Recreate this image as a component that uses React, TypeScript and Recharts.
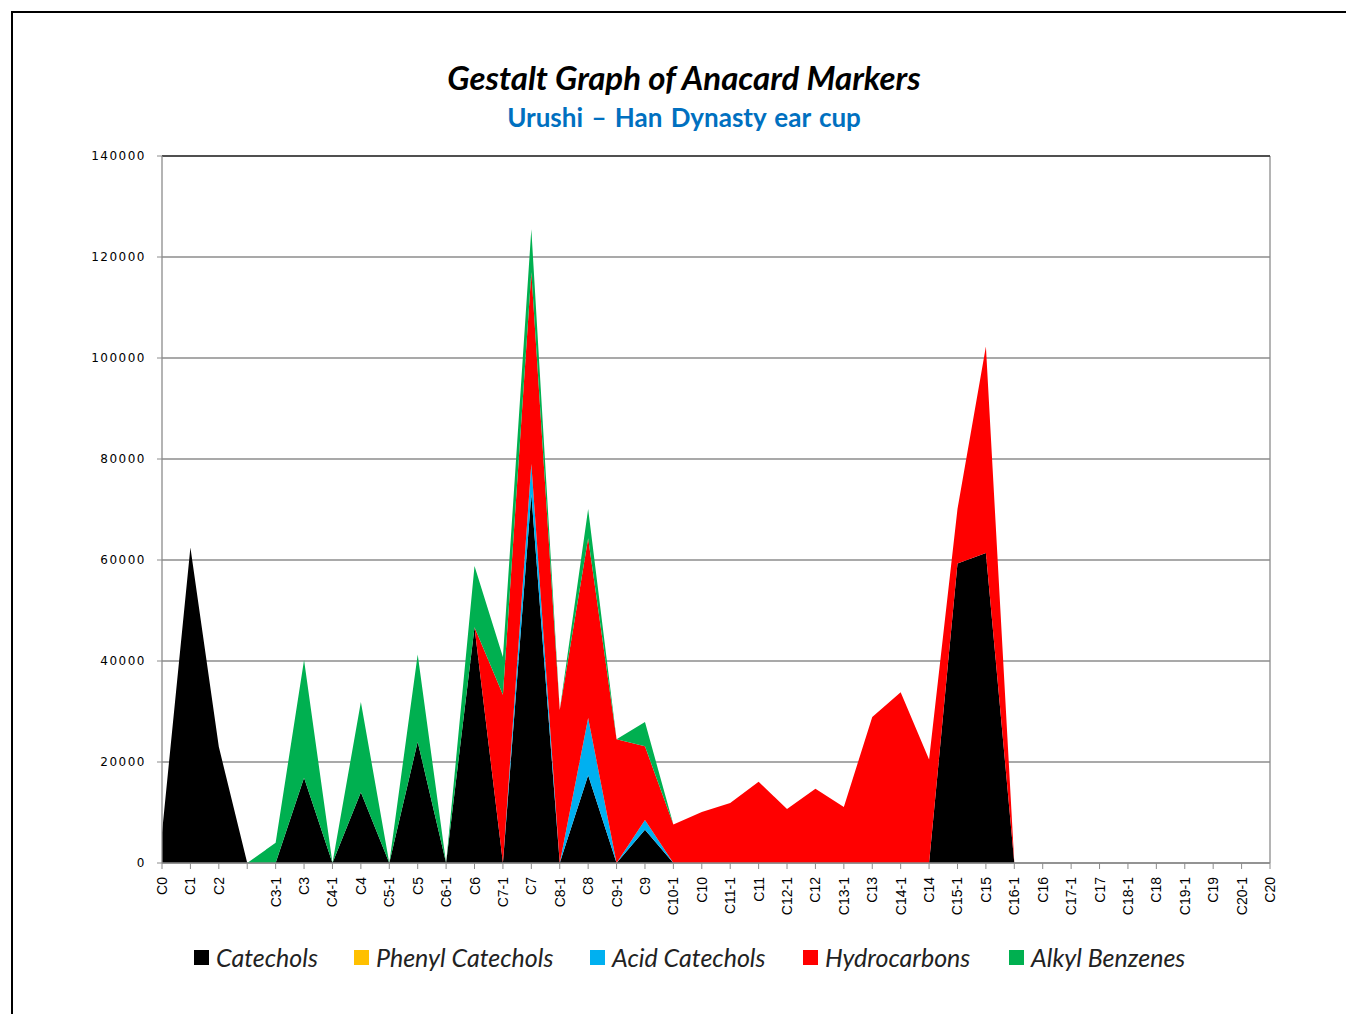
import { AreaChart, Area, XAxis, YAxis, CartesianGrid, ReferenceLine } from 'recharts'

const categories = [
  'C0', 'C1', 'C2', '', 'C3-1', 'C3', 'C4-1', 'C4', 'C5-1', 'C5',
  'C6-1', 'C6', 'C7-1', 'C7', 'C8-1', 'C8', 'C9-1', 'C9', 'C10-1', 'C10',
  'C11-1', 'C11', 'C12-1', 'C12', 'C13-1', 'C13', 'C14-1', 'C14', 'C15-1', 'C15',
  'C16-1', 'C16', 'C17-1', 'C17', 'C18-1', 'C18', 'C19-1', 'C19', 'C20-1', 'C20',
]

const catechols = [
  6000, 62500, 23000, 0, 0, 16900, 0, 14000, 0, 24000,
  0, 46700, 0, 73000, 0, 17400, 0, 6600, 0, 0,
  0, 0, 0, 0, 0, 0, 0, 0, 59300, 61400,
  0, 0, 0, 0, 0, 0, 0, 0, 0, 0,
]

const phenylCatechols = categories.map(() => 0)

const acidCatechols = [
  0, 0, 0, 0, 0, 0, 0, 0, 0, 0,
  0, 0, 0, 6000, 0, 11300, 0, 1900, 0, 0,
  0, 0, 0, 0, 0, 0, 0, 0, 0, 0,
  0, 0, 0, 0, 0, 0, 0, 0, 0, 0,
]

const hydrocarbons = [
  0, 0, 0, 0, 0, 0, 0, 0, 0, 0,
  0, 0, 33300, 38000, 30300, 35600, 24500, 14600, 7600, 10100,
  11900, 16100, 10700, 14700, 11100, 28900, 33800, 20500, 10800, 40900,
  0, 0, 0, 0, 0, 0, 0, 0, 0, 0,
]

const alkylBenzenes = [
  0, 0, 0, 0, 4000, 23300, 0, 17900, 0, 17300,
  0, 12100, 7500, 8500, 0, 5800, 0, 4800, 0, 0,
  0, 0, 0, 0, 0, 0, 0, 0, 0, 0,
  0, 0, 0, 0, 0, 0, 0, 0, 0, 0,
]

const yTicks = [0, 20000, 40000, 60000, 80000, 100000, 120000, 140000]

const SERIES = [
  { key: 'catechols', name: 'Catechols', color: '#000000' },
  { key: 'phenyl', name: 'Phenyl Catechols', color: '#FFC000' },
  { key: 'acid', name: 'Acid Catechols', color: '#00B0F0' },
  { key: 'hydro', name: 'Hydrocarbons', color: '#FF0000' },
  { key: 'alkyl', name: 'Alkyl Benzenes', color: '#00B050' },
]

// left edge of each legend swatch, relative to the frame
const LEGEND_LEFT = [181, 341, 577, 790, 996]

const data = categories.map((cat, i) => ({
  cat,
  catechols: catechols[i],
  phenyl: phenylCatechols[i],
  acid: acidCatechols[i],
  hydro: hydrocarbons[i],
  alkyl: alkylBenzenes[i],
}))

const XTick = (props: any) => {
  const { x, y, payload } = props
  return (
    <g transform={`translate(${x},${y + 6})`}>
      <text
        transform="rotate(-90)"
        textAnchor="end"
        dominantBaseline="central"
        fontFamily="'Liberation Sans', Arial, sans-serif"
        fontSize={14}
        fill="#000"
      >
        {payload.value}
      </text>
    </g>
  )
}

export default function App() {
  return (
    <div
      style={{
        position: 'fixed',
        left: 11,
        top: 11,
        width: 1335,
        height: 1003,
        borderLeft: '2px solid #000',
        borderTop: '2px solid #000',
        boxSizing: 'border-box',
        background: '#fff',
        fontFamily: 'Lato, sans-serif',
      }}
    >
      {/* Titles */}
      <div
        style={{
          position: 'absolute',
          left: 0,
          width: 1342,
          top: 44,
          textAlign: 'center',
          fontSize: 33,
          fontWeight: 700,
          fontStyle: 'italic',
          color: '#000',
          whiteSpace: 'nowrap',
        }}
      >
        Gestalt Graph of Anacard Markers
      </div>
      <div
        style={{
          position: 'absolute',
          left: 0,
          width: 1342,
          top: 88,
          textAlign: 'center',
          fontSize: 26,
          fontWeight: 700,
          color: '#0070C0',
          wordSpacing: 2,
          whiteSpace: 'nowrap',
        }}
      >
        Urushi – Han Dynasty ear cup
      </div>

      <div style={{ position: 'absolute', left: -2, top: -2 }}>
        <AreaChart
          width={1335}
          height={1003}
          data={data}
          margin={{ top: 145, right: 76, left: 71, bottom: 81 }}
        >
          <CartesianGrid vertical={false} stroke="#8c8c8c" strokeWidth={1.3} />
          <XAxis
            dataKey="cat"
            interval={0}
            tick={<XTick />}
            tickSize={6}
            tickLine={{ stroke: '#8c8c8c' }}
            axisLine={{ stroke: '#8c8c8c', strokeWidth: 1.3 }}
            height={70}
          />
          <YAxis
            domain={[0, 140000]}
            ticks={yTicks}
            width={80}
            tickSize={5}
            tickMargin={11}
            tickLine={{ stroke: '#8c8c8c' }}
            axisLine={{ stroke: '#8c8c8c', strokeWidth: 1.3 }}
            tick={{
              fontFamily: 'DejaVu Sans, sans-serif',
              fontSize: 12,
              fill: '#000',
              letterSpacing: 1.5,
            }}
          />
          <ReferenceLine x="C20" stroke="#8c8c8c" strokeWidth={1.3} />
          <ReferenceLine y={140000} stroke="#333" strokeWidth={1.3} />
          {SERIES.map((s) => (
            <Area
              key={s.key}
              type="linear"
              dataKey={s.key}
              name={s.name}
              stackId="1"
              stroke="none"
              fill={s.color}
              fillOpacity={1}
              isAnimationActive={false}
            />
          ))}
        </AreaChart>
      </div>

      {/* Legend */}
      {SERIES.map((s, i) => (
        <div
          key={s.key}
          style={{
            position: 'absolute',
            left: LEGEND_LEFT[i],
            top: 929,
            display: 'flex',
            alignItems: 'center',
            fontSize: 25,
            fontStyle: 'italic',
            color: '#222',
            whiteSpace: 'nowrap',
          }}
        >
          <span
            style={{
              display: 'inline-block',
              width: 15,
              height: 15,
              background: s.color,
              marginRight: 7,
            }}
          />
          <span>{s.name}</span>
        </div>
      ))}
    </div>
  )
}
